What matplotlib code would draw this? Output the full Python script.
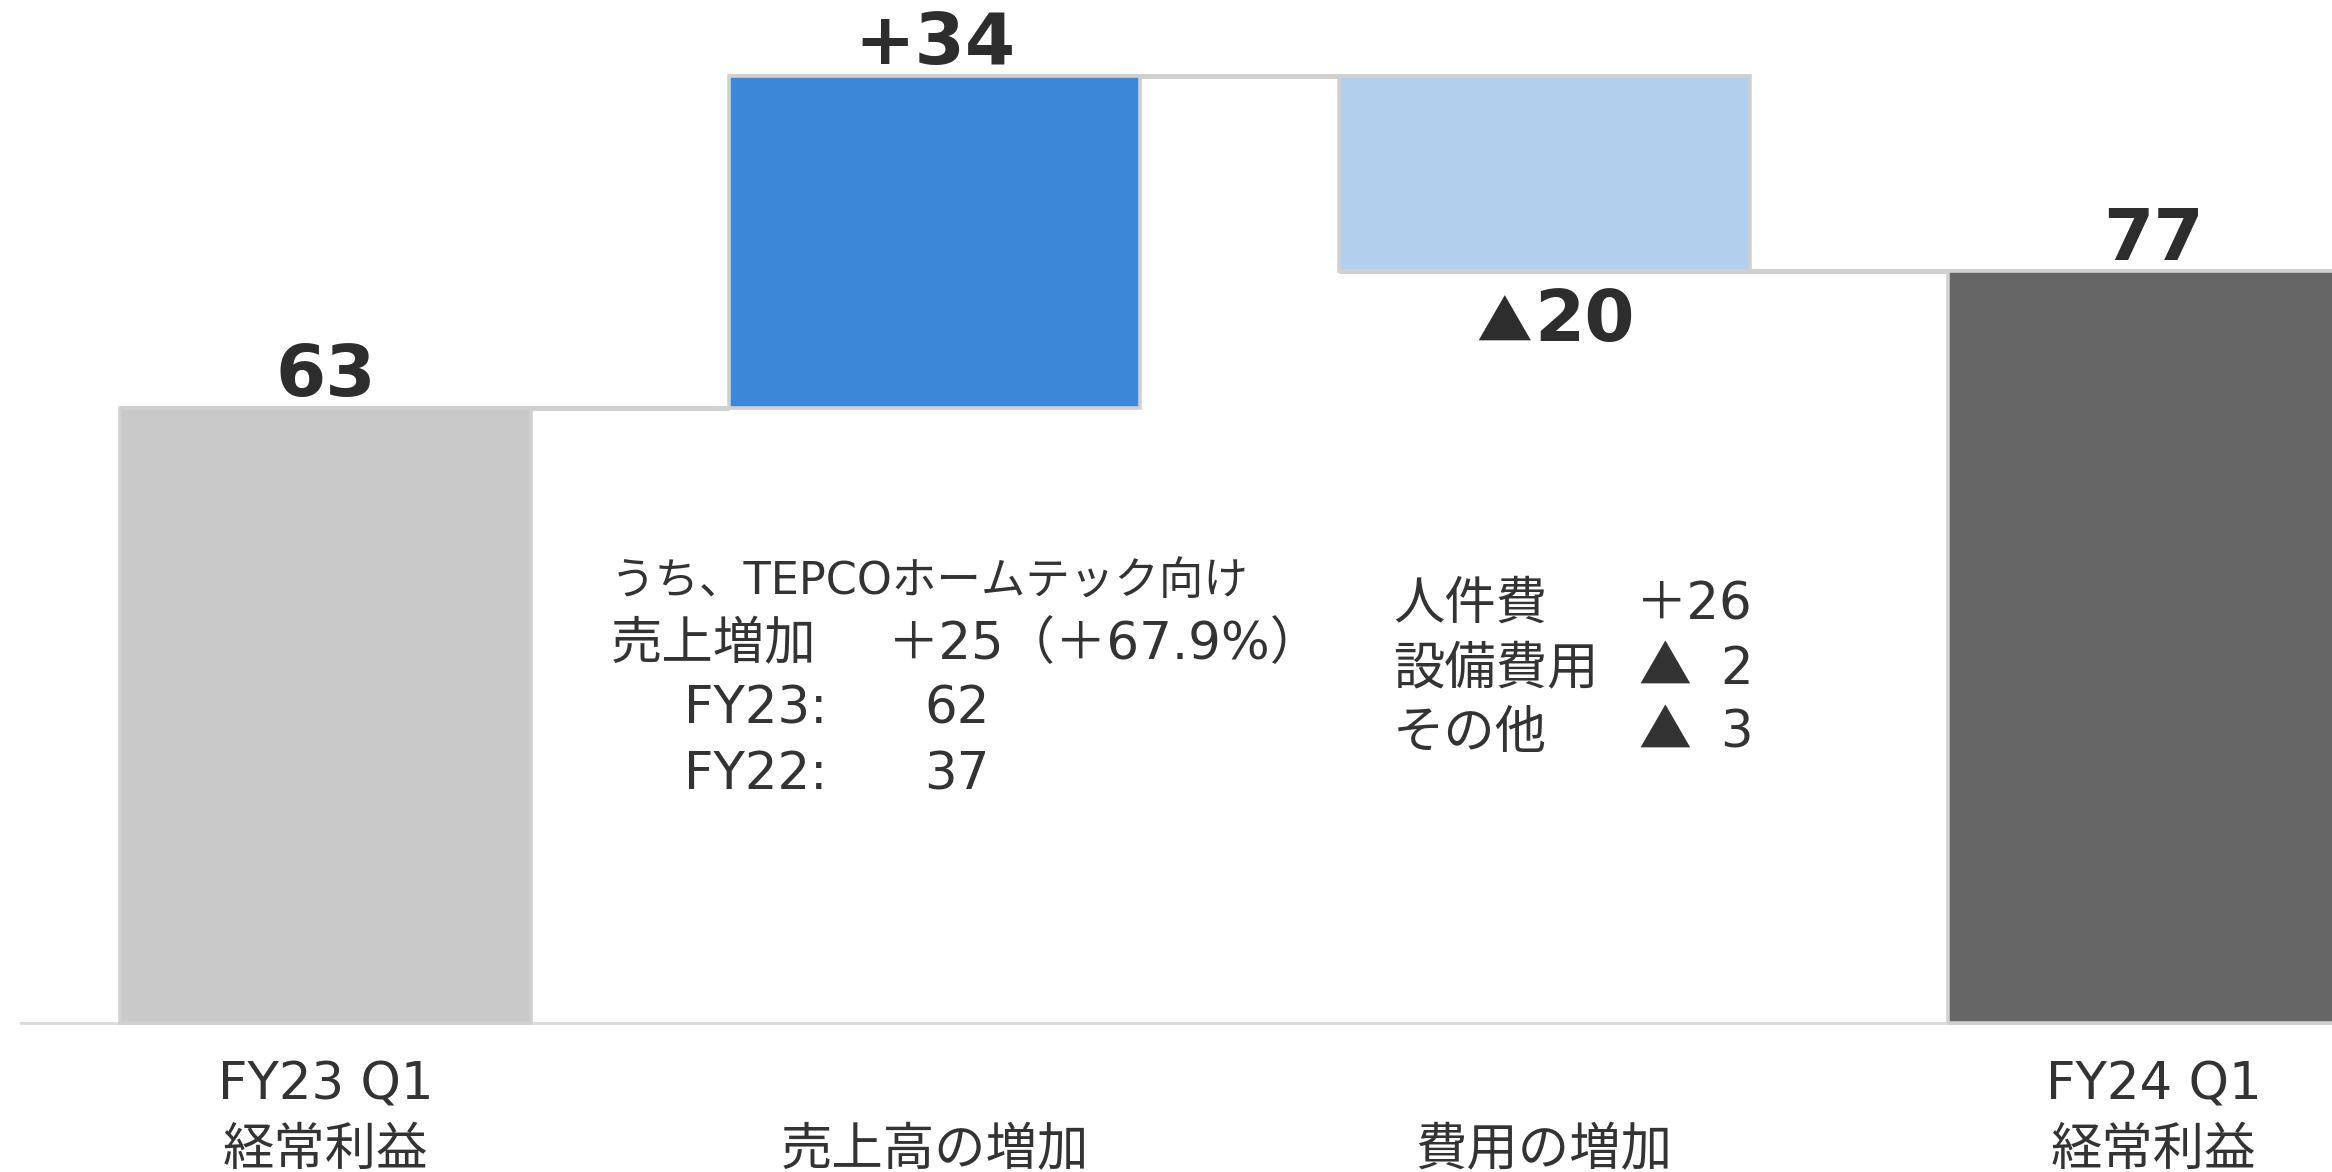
import matplotlib
matplotlib.use('Agg')
import matplotlib.pyplot as plt

# waterfall data (億円)
categories_top = ['FY23 Q1', '', '', 'FY24 Q1']
categories_bottom = ['経常利益', '売上高の増加', '費用の増加', '経常利益']
values = [63, 34, -20, 77]
value_labels = ['63', '+34', '20', '77']
is_total = [True, False, False, True]

# breakdown of the sales increase
hometech_title = 'うち、TEPCOホームテック向け'
hometech_diff = 25
hometech_pct = 67.9
hometech_years = ['FY23:', 'FY22:']
hometech_sales = [62, 37]

# breakdown of the cost increase
cost_items = ['人件費', '設備費用', 'その他']
cost_values = [26, -2, -3]

bar_colors = ['#c9c9c9', '#3c87d8', '#b2d0ee', '#666666']
edge_gray = '#d0d0d0'
text_dark = '#333333'
FONT = ['DejaVu Sans', 'Noto Sans CJK JP']
FONT_JP = ['Noto Sans CJK JP', 'DejaVu Sans']

W, H = 2332, 1172
fig = plt.figure(figsize=(W / 100, H / 100), dpi=100)
ax = fig.add_axes([0, 0, 1, 1])
ax.set_xlim(-0.534, 3.293)
ax.set_ylim(-15.27, 104.8)
ax.axis('off')

width = 0.6745
bottoms, tops = [], []
running = 0
for v, tot in zip(values, is_total):
    if tot:
        b, t = 0, v
        running = v
    else:
        b, t = sorted([running, running + v])
        running += v
    bottoms.append(b)
    tops.append(t)

# baseline
ax.plot([-0.5, 3.4], [0, 0], color='#dcdcdc', lw=2.2, zorder=1)

# connectors between bars
for i in range(len(values) - 1):
    level = tops[i] if values[i] >= 0 else bottoms[i]
    if values[i + 1] < 0:
        x_end = i + 1 + width / 2
    else:
        x_end = i + 1 - width / 2
    if i == len(values) - 2:
        x_end = 3.4
    ax.plot([i - width / 2, x_end], [level, level], color=edge_gray, lw=3.6,
            zorder=2, solid_capstyle='butt')

for i, (b, t) in enumerate(zip(bottoms, tops)):
    ax.bar(i, t - b, bottom=b, width=width, color=bar_colors[i],
           edgecolor=edge_gray, linewidth=2.6, zorder=3)

# value labels
for i, lab in enumerate(value_labels):
    if values[i] >= 0:
        ax.annotate(lab, xy=(i, tops[i]), xytext=(0, 8.5), textcoords='offset points',
                    ha='center', va='baseline', fontsize=52, fontweight='bold',
                    color='#2d2d2d', family=FONT)
    else:
        ax.annotate('▲', xy=(i, bottoms[i]), xytext=(-9, -50.4), textcoords='offset points',
                    ha='right', va='baseline', fontsize=40, fontweight='bold',
                    color='#2d2d2d', family=FONT_JP)
        ax.annotate(lab, xy=(i, bottoms[i]), xytext=(-7, -50.4), textcoords='offset points',
                    ha='left', va='baseline', fontsize=52, fontweight='bold',
                    color='#2d2d2d', family=FONT)


def ftext(x, y, s, **kw):
    kw.setdefault('fontsize', 37)
    kw.setdefault('color', text_dark)
    kw.setdefault('family', FONT)
    kw.setdefault('va', 'baseline')
    fig.text(x / W, 1 - y / H, s, **kw)


# category labels
for i in range(len(values)):
    xc = 325.5 + i * 609.3
    if categories_top[i]:
        ftext(xc, 1100, categories_top[i], ha='center')
    ftext(xc, 1165, categories_bottom[i], ha='center')

# sales increase breakdown
ftext(611, 594, hometech_title, ha='left', fontsize=32)
ftext(611, 659, '売上増加', ha='left')
ftext(888, 659, f'＋{hometech_diff}（＋{hometech_pct:.1f}%）', ha='left')
for k, (yr, val) in enumerate(zip(hometech_years, hometech_sales)):
    ftext(684, 724 + 65 * k, yr, ha='left')
    ftext(990, 724 + 65 * k, str(val), ha='right')

# cost increase breakdown
for k, (item, val) in enumerate(zip(cost_items, cost_values)):
    y = 619 + 64.5 * k
    ftext(1393, y, item, ha='left')
    if val > 0:
        ftext(1753, y, f'＋{val}', ha='right')
    else:
        ftext(1638, y, '▲', ha='left', family=FONT_JP, fontsize=38)
        ftext(1753, y, str(abs(val)), ha='right')

fig.savefig('out.png', dpi=100)
